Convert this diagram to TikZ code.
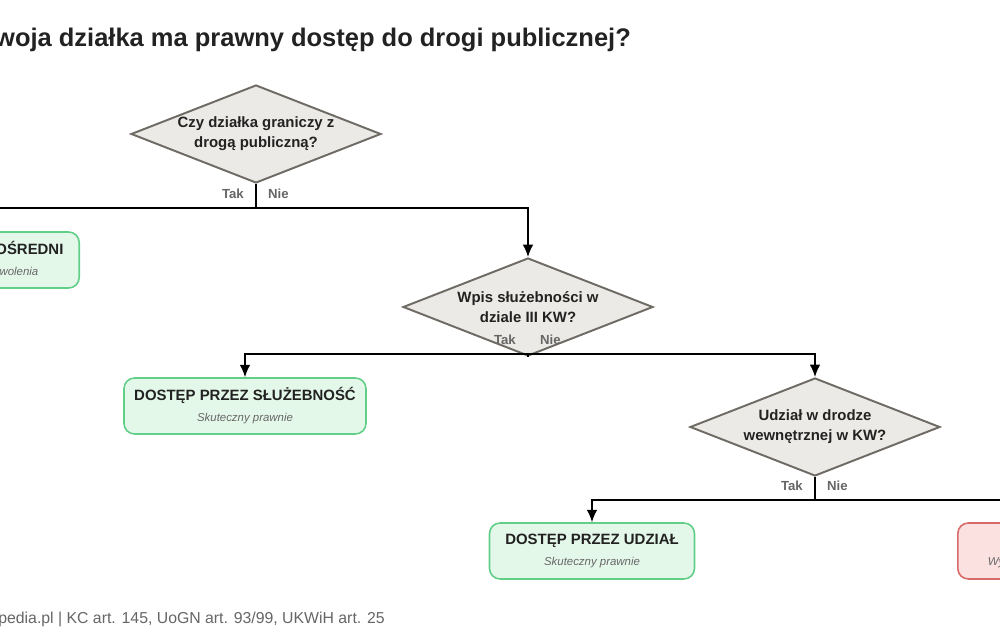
\documentclass[tikz,border=0pt]{standalone}
\usepackage{fontspec}
\setmainfont{Liberation Sans}
\usetikzlibrary{shapes.geometric, arrows.meta, positioning}
\definecolor{diafill}{HTML}{ECEAE6}
\definecolor{diadraw}{HTML}{6E6A64}
\definecolor{okfill}{HTML}{E4F8EA}
\definecolor{okdraw}{HTML}{62CF88}
\definecolor{nofill}{HTML}{FCE1E1}
\definecolor{nodraw}{HTML}{D86A6A}
\definecolor{txt}{HTML}{222222}
\definecolor{lbl}{HTML}{666666}
\tikzstyle{decision} = [diamond, aspect=2.55, minimum width=5cm, minimum height=1.96cm, inner sep=-6pt, align=center, font=\bfseries\fontsize{8.5}{11.5}\selectfont, text=txt, fill=diafill, draw=diadraw, line width=1.1pt]
\tikzstyle{result} = [rectangle, rounded corners=6pt, minimum height=1.12cm, align=center, font=\bfseries\fontsize{8.5}{12}\selectfont, text=txt, line width=0.9pt]
\tikzstyle{ok} = [result, fill=okfill, draw=okdraw]
\tikzstyle{no} = [result, fill=nofill, draw=nodraw]
\tikzstyle{arrow} = [line width=0.9pt, -{Latex[length=7pt,width=6pt]}]
\tikzstyle{line} = [line width=0.9pt]
\tikzstyle{ans} = [font=\bfseries\fontsize{7.5}{8}\selectfont, text=lbl]
\newcommand{\sub}[1]{\\[0pt]{\mdseries\itshape\fontsize{6.5}{8}\selectfont\color{lbl}#1}}

\begin{document}
\begin{tikzpicture}[x=0.02cm, y=-0.02cm]
        \clip (0,0) rectangle (1000,641);
        \fill[white] (0,0) rectangle (1000,641);
        \node[anchor=east, font=\bfseries\fontsize{14.5}{18}\selectfont, text=txt] (title) at (637,40) {Czy Twoja działka ma prawny dostęp do drogi publicznej?};

        \node (q1) [decision] at (256,134) {Czy działka graniczy z\\drogą publiczną?};
        \node (q2) [decision] at (528,307) {Wpis służebności w\\dziale III KW?};
        \node (q3) [decision] at (815,427) {Udział w drodze\\wewnętrznej w KW?};

        \node (bezp) [ok, minimum width=4.1cm, anchor=east] at (80,260) {DOSTĘP BEZPOŚREDNI\sub{Nie wymaga pozwolenia}};
        \node (sluz) [ok, minimum width=4.84cm] at (245,406) {DOSTĘP PRZEZ SŁUŻEBNOŚĆ\sub{Skuteczny prawnie}};
        \node (udz) [ok, minimum width=4.1cm] at (592,551) {DOSTĘP PRZEZ UDZIAŁ\sub{Skuteczny prawnie}};
        \node (brak) [no, minimum width=4.1cm, anchor=west] at (957,551) {BRAK DOSTĘPU\sub{Wymagana droga konieczna}};

        \coordinate (j1) at (256,208);
        \coordinate (j2) at (528,354);
        \coordinate (j3) at (815,500);

        \draw [line] (q1.south) -- (j1);
        \draw [arrow] (j1) -| (bezp.north);
        \draw [arrow] (j1) -| (q2.north);
        \draw [line] (q2.south) -- (j2);
        \draw [arrow] (j2) -| (sluz.north);
        \draw [arrow] (j2) -| (q3.north);
        \draw [line] (q3.south) -- (j3);
        \draw [arrow] (j3) -| (udz.north);
        \draw [arrow] (j3) -| (brak.north);

        \node [ans, anchor=east] at (250,194) {Tak};
        \node [ans, anchor=west] at (262,194) {Nie};
        \node [ans, anchor=east] at (522,340) {Tak};
        \node [ans, anchor=west] at (534,340) {Nie};
        \node [ans, anchor=east] at (809,486) {Tak};
        \node [ans, anchor=west] at (821,486) {Nie};

        \node[anchor=east, font=\fontsize{9}{10}\selectfont, text=lbl] (src) at (391,618) {Źródło: Nieruchomozopedia.pl | KC art. 145, UoGN art. 93/99, UKWiH art. 25};
    \end{tikzpicture}
\end{document}
